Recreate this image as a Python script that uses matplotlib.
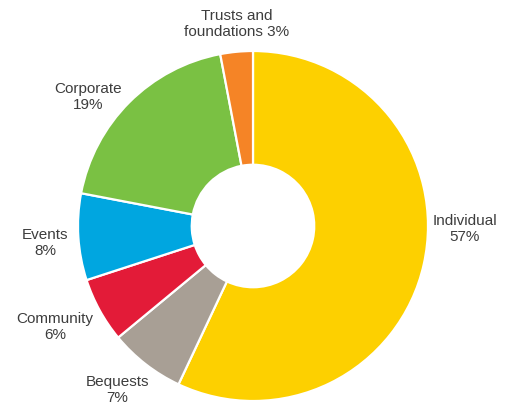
import matplotlib
matplotlib.use("Agg")
import matplotlib.pyplot as plt

# income sources, clockwise from 12 o'clock
sources = ["Individual", "Bequests", "Community", "Events", "Corporate",
           "Trusts and\nfoundations"]
shares = [57, 7, 6, 8, 19, 3]
colors = ["#FDD000", "#A89F95", "#E31B38", "#00A6E0", "#7AC143", "#F58426"]

# label anchor points (fractions of the figure, measured from top-left)
label_pos = [(0.908, 0.568), (0.229, 0.968), (0.107, 0.811),
             (0.088, 0.603), (0.172, 0.241), (0.462, 0.060)]

W, H = 512, 403
fig = plt.figure(figsize=(W / 100, H / 100), dpi=100)
ax = fig.add_axes([0, 0, 1, 1])

R = 175.0   # outer radius in px
cx, cy = 253.0, 226.0
ax.pie(shares, colors=colors, startangle=90, counterclock=False,
       radius=1.0, wedgeprops=dict(width=0.65, edgecolor="white", linewidth=1.6))
ax.set_aspect("equal")
ax.set_xlim(-cx / R, (W - cx) / R)
ax.set_ylim(-(H - cy) / R, cy / R)
ax.axis("off")

for name, val, (fx, fy) in zip(sources, shares, label_pos):
    if "\n" in name:
        txt = f"{name} {val}%"
    else:
        txt = f"{name}\n{val}%"
    fig.text(fx, 1 - fy, txt, ha="center", va="center", fontsize=11,
             color="#3d3d3d", family="Liberation Sans", linespacing=1.2)

fig.savefig("out.png", dpi=100)
